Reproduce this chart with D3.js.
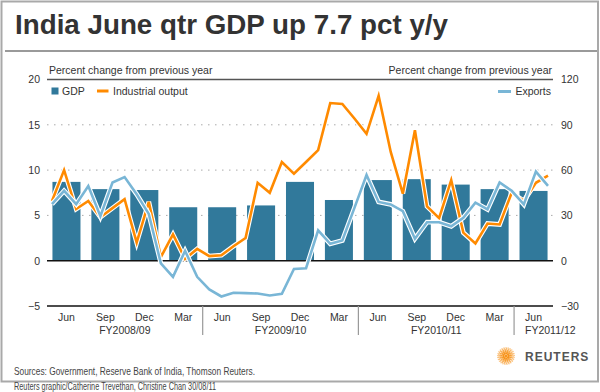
<!DOCTYPE html>
<html>
<head>
<meta charset="utf-8">
<script src="https://cdn.jsdelivr.net/npm/d3@7/dist/d3.min.js"></script>
<style>
  body { margin: 0; background: #fff; }
  text { font-family: "Liberation Sans", Arial, Helvetica, sans-serif; fill: #333; }
</style>
</head>
<body>
<svg id="chart" width="600" height="392"></svg>
<script>

// quarterly GDP, percent y/y (left axis)
var quarters = ["Jun","Sep","Dec","Mar","Jun","Sep","Dec","Mar","Jun","Sep","Dec","Mar","Jun"];
var gdp = [8.7, 7.9, 7.8, 5.9, 5.9, 6.1, 8.7, 6.7, 8.9, 9.0, 8.4, 7.9, 7.7];

// fiscal year groups (number of quarters in each)
var fyLabels = ["FY2008/09", "FY2009/10", "FY2010/11", "FY2011/12"];
var fyQuarters = [4, 4, 4, 1];

// monthly series
var industrial = [6.6, 10.0, 5.7, 6.6, 4.8, 5.8, 6.8, 2.0, 6.5, 0.4, 2.9, 0.2,
                  1.3, 0.5, 0.6, 1.6, 2.5, 8.6, 7.5, 10.9, 9.6, 10.9, 12.2, 17.4,
                  17.3, 15.7, 14.0, 18.2, 12.0, 7.4, 14.4, 6.0, 4.7, 8.9, 3.1, 1.9,
                  4.1, 4.0, 7.5, 6.6, 8.6, 9.4];
var exportsY = [37.4, 46.3, 37.4, 49.4, 29.5, 51.8, 55.4, 44.0, 31.0, -1.8, -10.7, 6.5,
                -10.7, -19.0, -23.7, -21.2, -21.5, -21.7, -23.0, -21.9, -5.5, -5.0, 20.1, 11.2,
                13.4, 35.0, 56.8, 38.9, 37.3, 32.8, 14.6, 25.5, 25.5, 22.8, 28.4, 38.4,
                34.0, 51.8, 46.3, 37.3, 59.0, 49.6];

var leftTicks = [-5, 0, 5, 10, 15, 20];
var rightTicks = [-30, 0, 30, 60, 90, 120];

var svg = d3.select("#chart");
var plot = {left: 47, right: 553, top: 79.5, bottom: 306};

var barColor = "#31799b", orange = "#ff8a00", lightBlue = "#79b6d6";

// frame + title
svg.append("rect")
  .attr("x", 1.5).attr("y", 1.5).attr("width", 596.5).attr("height", 380)
  .attr("fill", "none").attr("stroke", "#a9a9a9").attr("stroke-width", 2);

svg.append("text")
  .attr("x", 15).attr("y", 34)
  .attr("font-size", 28).attr("font-weight", "bold")
  .attr("textLength", 433).attr("lengthAdjust", "spacingAndGlyphs")
  .style("fill", "#333")
  .text("India June qtr GDP up 7.7 pct y/y");

svg.append("line")
  .attr("x1", 5).attr("x2", 597).attr("y1", 51).attr("y2", 51)
  .attr("stroke", "#9a9a9a").attr("stroke-width", 2);

// scales
var yL = d3.scaleLinear().domain([-5, 20]).range([plot.bottom, plot.top]);
var yR = d3.scaleLinear().domain([-30, 120]).range([plot.bottom, plot.top]);
var xBand = d3.scaleBand()
  .domain(d3.range(quarters.length))
  .range([plot.left, plot.right])
  .paddingInner(0.28).paddingOuter(0.14);
var xLine = d3.scaleLinear().domain([0, industrial.length - 1]).range([plot.left + 5, plot.right - 5]);

// gridlines
svg.append("g").selectAll("line")
  .data([5, 10, 15])
  .enter().append("line")
  .attr("x1", plot.left).attr("x2", plot.right)
  .attr("y1", d => yL(d)).attr("y2", d => yL(d))
  .attr("stroke", "#aaa").attr("stroke-width", 1)
  .attr("stroke-dasharray", "1.5,5.5");

// bars
svg.append("g").selectAll("rect")
  .data(gdp)
  .enter().append("rect")
  .attr("x", (d, i) => xBand(i))
  .attr("width", xBand.bandwidth())
  .attr("y", d => yL(d))
  .attr("height", d => yL(0) - yL(d))
  .attr("fill", barColor);

// solid lines: top, zero, bottom
svg.append("g").selectAll("line")
  .data([20, 0])
  .enter().append("line")
  .attr("x1", plot.left).attr("x2", plot.right)
  .attr("y1", d => yL(d)).attr("y2", d => yL(d))
  .attr("stroke", d => d == 20 ? "#555" : "#111").attr("stroke-width", 1.5);
svg.append("line")
  .attr("x1", plot.left).attr("x2", plot.right)
  .attr("y1", plot.bottom).attr("y2", plot.bottom)
  .attr("stroke", "#111").attr("stroke-width", 1.5);

// lines with white casing
function drawLine(data, yScale, color) {
  var line = d3.line()
    .x((d, i) => xLine(i))
    .y(d => yScale(d));
  var g = svg.append("g");
  g.append("path").datum(data)
    .attr("d", line).attr("fill", "none")
    .attr("stroke", "#fff").attr("stroke-width", 4.8).attr("stroke-linejoin", "miter");
  g.append("path").datum(data)
    .attr("d", line).attr("fill", "none")
    .attr("stroke", color).attr("stroke-width", 2.6).attr("stroke-linejoin", "miter");
}
drawLine(industrial, yL, orange);
drawLine(exportsY, yR, lightBlue);

// y axes
var axL = svg.append("g")
  .attr("transform", `translate(${plot.left},0)`)
  .call(d3.axisLeft(yL).tickValues(leftTicks).tickSize(0).tickPadding(7));
var axR = svg.append("g")
  .attr("transform", `translate(${plot.right},0)`)
  .call(d3.axisRight(yR).tickValues(rightTicks).tickSize(0).tickPadding(8));
[axL, axR].forEach(function(ax) {
  ax.select(".domain").remove();
  ax.selectAll("text").attr("font-size", 10.5).style("fill", "#333")
    .attr("font-family", "Liberation Sans, Arial, sans-serif");
});

// x axis month labels
var axB = svg.append("g")
  .attr("transform", `translate(0,${plot.bottom})`)
  .call(d3.axisBottom(xBand).tickFormat(i => quarters[i]).tickSize(0).tickPadding(7.5));
axB.select(".domain").remove();
axB.selectAll("text").attr("font-size", 10.5).style("fill", "#333")
  .attr("font-family", "Liberation Sans, Arial, sans-serif");

// fiscal year labels and dividers
var step = xBand.step();
var start = 0;
fyLabels.forEach(function(lab, k) {
  var n = fyQuarters[k];
  var x0 = plot.left + start * step;
  var x1 = plot.left + (start + n) * step;
  if (k > 0) {
    svg.append("line")
      .attr("x1", x0).attr("x2", x0)
      .attr("y1", plot.bottom).attr("y2", 335)
      .attr("stroke", "#999").attr("stroke-width", 1.2);
  }
  var t = svg.append("text")
    .attr("y", 334).attr("font-size", 10.5)
    .text(lab);
  if (n > 1) t.attr("x", (x0 + x1) / 2).attr("text-anchor", "middle");
  else t.attr("x", xBand(start) + 5.5).attr("text-anchor", "start");
  start += n;
});

// axis titles
svg.append("text")
  .attr("x", 49).attr("y", 74).attr("font-size", 10.5)
  .text("Percent change from previous year");
svg.append("text")
  .attr("x", 552).attr("y", 74).attr("font-size", 10.5).attr("text-anchor", "end")
  .text("Percent change from previous year");

// legend
svg.append("rect").attr("x", 51.5).attr("y", 87.5).attr("width", 7).attr("height", 7).attr("fill", barColor);
svg.append("text").attr("x", 62).attr("y", 95).attr("font-size", 10.5).text("GDP");
svg.append("line").attr("x1", 97).attr("x2", 108.5).attr("y1", 91).attr("y2", 91)
  .attr("stroke", orange).attr("stroke-width", 3);
svg.append("text").attr("x", 113).attr("y", 95).attr("font-size", 10.5).text("Industrial output");
svg.append("line").attr("x1", 498).attr("x2", 511).attr("y1", 91.5).attr("y2", 91.5)
  .attr("stroke", lightBlue).attr("stroke-width", 3);
svg.append("text").attr("x", 551).attr("y", 95).attr("font-size", 10.5).attr("text-anchor", "end").text("Exports");

// footer
svg.append("text")
  .attr("x", 14).attr("y", 375).attr("font-size", 10.5)
  .attr("textLength", 241).attr("lengthAdjust", "spacingAndGlyphs")
  .style("fill", "#444")
  .text("Sources: Government, Reserve Bank of India, Thomson Reuters.");
svg.append("text")
  .attr("x", 14).attr("y", 390).attr("font-size", 10.5)
  .attr("textLength", 202).attr("lengthAdjust", "spacingAndGlyphs")
  .style("fill", "#444")
  .text("Reuters graphic/Catherine Trevethan, Christine Chan  30/08/11");

// reuters logo: dotted rings
var logo = svg.append("g").attr("transform", "translate(506,356)");
logo.append("circle").attr("r", 1.6).attr("fill", "#f7941d");
[[2.6, 9], [4.2, 13], [5.7, 17], [7.1, 21], [8.3, 25]].forEach(function(r, k) {
  logo.selectAll(null)
    .data(d3.range(r[1]))
    .enter().append("circle")
    .attr("cx", d => r[0] * Math.cos(d / r[1] * 2 * Math.PI + k * 0.3))
    .attr("cy", d => r[0] * Math.sin(d / r[1] * 2 * Math.PI + k * 0.3))
    .attr("r", 1.15 - k * 0.1)
    .attr("fill", "#f7941d")
    .attr("opacity", 1 - k * 0.12);
});
svg.append("text")
  .attr("x", 525).attr("y", 360.5)
  .attr("font-size", 12).attr("font-weight", "bold").attr("letter-spacing", 1)
  .style("fill", "#555")
  .text("REUTERS");

</script>
</body>
</html>
